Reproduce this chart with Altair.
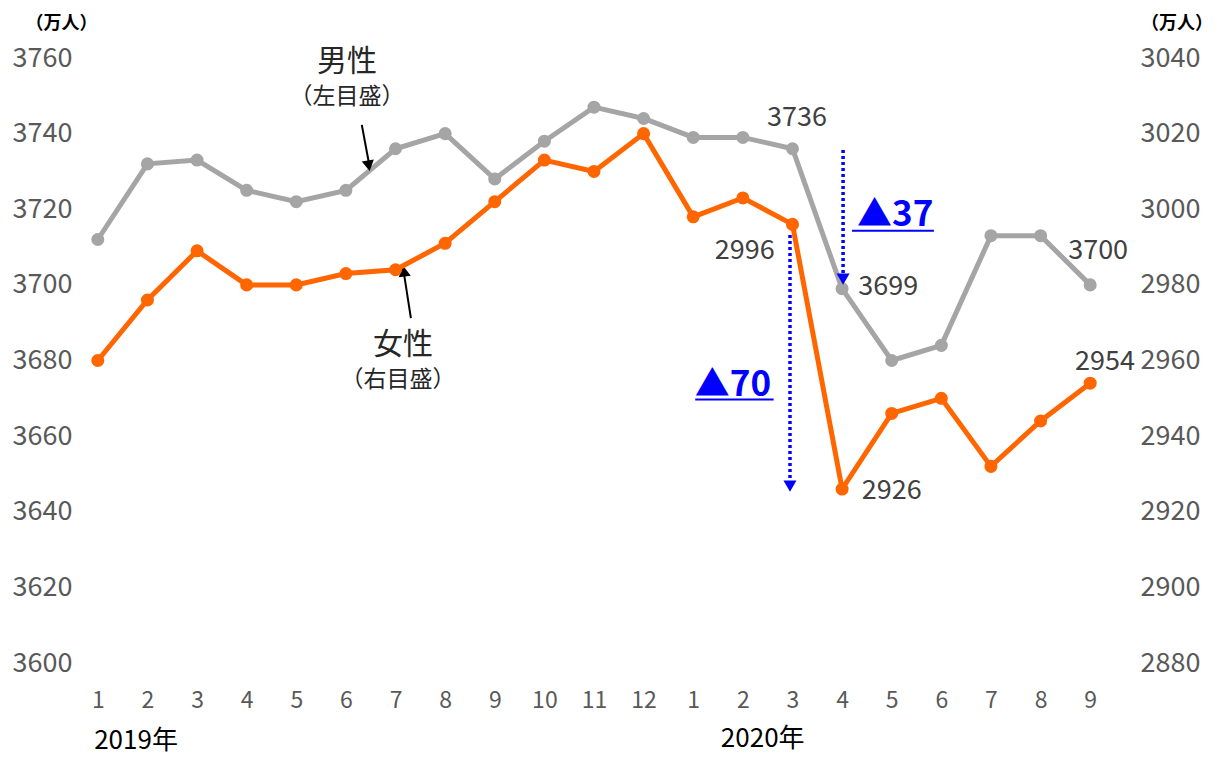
import json
import altair as alt
import pandas as pd

months = ["1", "2", "3", "4", "5", "6", "7", "8", "9", "10", "11", "12",
          "1", "2", "3", "4", "5", "6", "7", "8", "9"]
male = [3712, 3732, 3733, 3725, 3722, 3725, 3736, 3740, 3728, 3738, 3747, 3744,
        3739, 3739, 3736, 3699, 3680, 3684, 3713, 3713, 3700]
female = [2960, 2976, 2989, 2980, 2980, 2983, 2984, 2991, 3002, 3013, 3010, 3020,
          2998, 3003, 2996, 2926, 2946, 2950, 2932, 2944, 2954]

FONT = "Noto Sans CJK JP"
GRAY = "#A5A5A5"
ORANGE = "#FF6600"
BLUE = "#0000FF"
TXT = "#595959"

idx = list(range(len(months)))
df_m = pd.DataFrame({"x": idx, "y": male})
df_f = pd.DataFrame({"x": idx, "f": female})

label_expr = json.dumps(months) + "[datum.value]"
X = alt.X("x:Q", scale=alt.Scale(domain=[-0.5, 20.5], nice=False, zero=False),
          axis=alt.Axis(values=idx, labelExpr=label_expr, title=None, grid=False,
                        domain=False, ticks=False, labelPadding=26, labelFontSize=23,
                        labelColor=TXT, labelFont=FONT))
Y_left = alt.Y("y:Q", scale=alt.Scale(domain=[3600, 3760], nice=False, zero=False),
               axis=alt.Axis(values=list(range(3600, 3761, 20)), format="d", title=None,
                             grid=False, domain=False, ticks=False, labelAlign="left",
                             labelPadding=61, labelFontSize=27, labelColor=TXT,
                             labelFont=FONT))
Y_right = alt.Y("f:Q", scale=alt.Scale(domain=[2880, 3040], nice=False, zero=False),
                axis=alt.Axis(values=list(range(2880, 3041, 20)), format="d", title=None,
                              grid=False, domain=False, ticks=False, orient="right",
                              labelAlign="left", labelPadding=25, labelFontSize=27,
                              labelColor=TXT, labelFont=FONT))

male_line = alt.Chart(df_m).mark_line(color=GRAY, strokeWidth=5).encode(x=X, y=Y_left)
male_pts = alt.Chart(df_m).mark_circle(color=GRAY, size=170, opacity=1).encode(x=X, y=Y_left)
fem_line = alt.Chart(df_f).mark_line(color=ORANGE, strokeWidth=5).encode(x=X, y=Y_right)
fem_pts = alt.Chart(df_f).mark_circle(color=ORANGE, size=170, opacity=1).encode(x=X, y=Y_right)

# value labels (annotation positions in left-axis data units)
val_labels = pd.DataFrame({
    "x": [14.09, 15.93, 20.16, 13.04, 16.0, 20.3],
    "y": [3744.1, 3699.4, 3709.0, 3709.0, 3645.5, 3679.6],
    "t": ["3736", "3699", "3700", "2996", "2926", "2954"],
})
vals = alt.Chart(val_labels).mark_text(font=FONT, fontSize=27, color="#404040").encode(
    x=X, y=Y_left, text="t:N")

series_big = pd.DataFrame({"x": [5.02, 6.15], "y": [3758.9, 3684.1], "t": ["男性", "女性"]})
series_small = pd.DataFrame({"x": [5.02, 6.05], "y": [3749.7, 3674.8],
                             "t": ["（左目盛）", "（右目盛）"]})
sbig = alt.Chart(series_big).mark_text(font=FONT, fontSize=30, color="#262626").encode(
    x=X, y=Y_left, text="t:N")
ssmall = alt.Chart(series_small).mark_text(font=FONT, fontSize=23, color="#262626").encode(
    x=X, y=Y_left, text="t:N")

years = pd.DataFrame({"x": [0.77, 13.4], "y": [3579.5, 3580.0], "t": ["2019年", "2020年"]})
yrs = alt.Chart(years).mark_text(font=FONT, fontSize=26, color="#000000").encode(
    x=X, y=Y_left, text="t:N")

units = pd.DataFrame({"x": [-0.73, 21.75], "y": [3769.0, 3769.0], "t": ["（万人）", "（万人）"]})
unit = alt.Chart(units).mark_text(font=FONT, fontSize=18, fontWeight="bold",
                                  color="#000000").encode(x=X, y=Y_left, text="t:N")

# black pointer arrows
black_lines = pd.DataFrame({"x": [5.32, 6.31], "x2": [5.46, 6.17],
                            "y": [3742.3, 3691.2], "y2": [3732.5, 3703.0]})
blines = alt.Chart(black_lines).mark_rule(color="#000000", strokeWidth=2).encode(
    x=X, x2="x2:Q", y=Y_left, y2="y2:Q")
bh1 = alt.Chart(pd.DataFrame({"x": [5.46], "y": [3731.5]})).mark_point(
    shape="triangle-down", filled=True, color="#000000", size=150, angle=350, opacity=1
).encode(x=X, y=Y_left)
bh2 = alt.Chart(pd.DataFrame({"x": [6.17], "y": [3703.6]})).mark_point(
    shape="triangle-up", filled=True, color="#000000", size=150, angle=352, opacity=1
).encode(x=X, y=Y_left)

# blue dotted arrows
blue_lines = pd.DataFrame({"x": [15.02, 13.95], "y": [3735.7, 3713.2], "y2": [3703.0, 3648.5]})
blines2 = alt.Chart(blue_lines).mark_rule(color=BLUE, strokeWidth=3.5, strokeDash=[3, 3]).encode(
    x=X, y=Y_left, y2="y2:Q")
bluehead = alt.Chart(pd.DataFrame({"x": [15.02, 13.95], "y": [3701.5, 3646.8]})).mark_point(
    shape="triangle-down", filled=True, color=BLUE, size=170, opacity=1
).encode(x=X, y=Y_left)

deltas = pd.DataFrame({"x": [16.07, 12.8], "y": [3718.5, 3673.5], "t": ["▲37", "▲70"]})
dtext = alt.Chart(deltas).mark_text(font=FONT, fontSize=35, fontWeight="bold", color=BLUE).encode(
    x=X, y=Y_left, text="t:N")
underl = pd.DataFrame({"x": [15.2, 12.04], "x2": [16.85, 13.62], "y": [3714.3, 3669.7]})
uline = alt.Chart(underl).mark_rule(color=BLUE, strokeWidth=2).encode(x=X, x2="x2:Q", y=Y_left)

noview = alt.ViewBackground(stroke="transparent", strokeWidth=0)
left = alt.layer(male_line, male_pts, vals, sbig, ssmall, yrs, unit, blines, bh1, bh2,
                 blines2, bluehead, dtext, uline).properties(view=noview)
right = alt.layer(fem_line, fem_pts).properties(view=noview)

chart = alt.layer(left, right).resolve_scale(y="independent").properties(
    width=1042, height=605,
    view=noview,
    autosize=alt.AutoSizeParams(type="none"),
    padding={"left": 65, "top": 50, "right": 98, "bottom": 93},
).configure_view(stroke="transparent", strokeWidth=0).configure(background="white", font=FONT)

chart.save("out.html", embed_options={"renderer": "svg", "actions": False})
